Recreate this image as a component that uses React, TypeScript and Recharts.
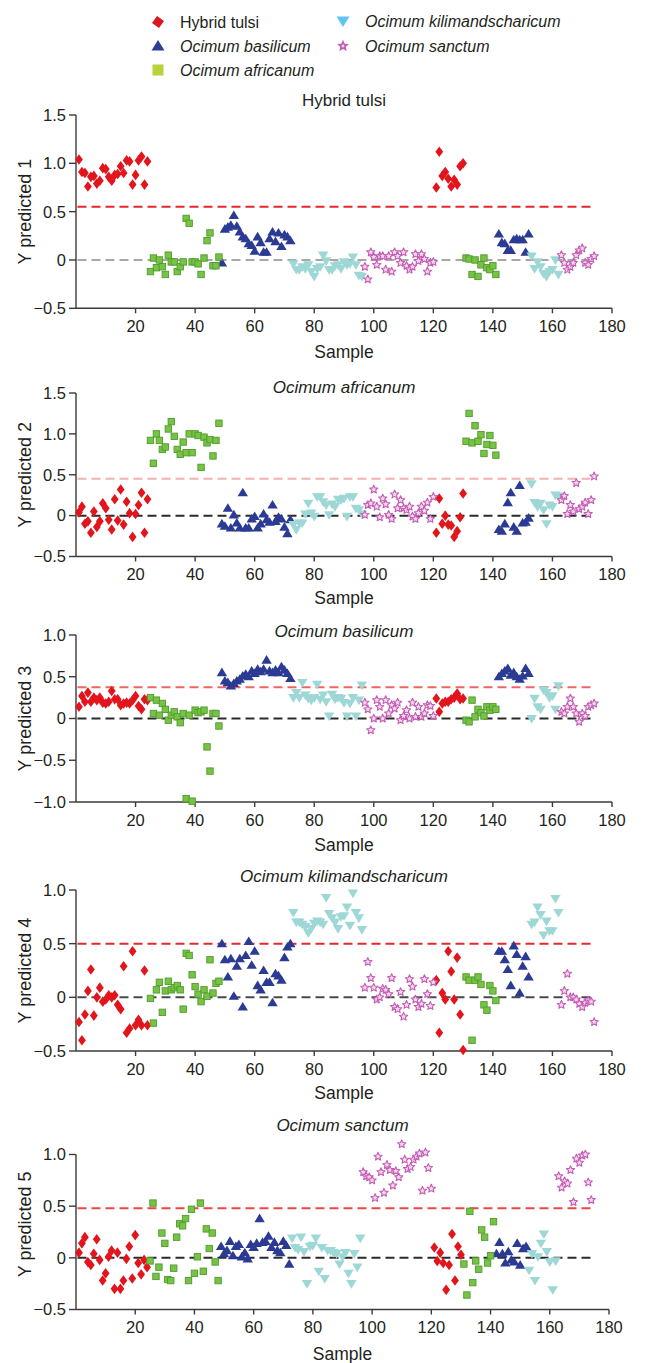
import React from 'react';
import { ScatterChart, Scatter, XAxis, YAxis, ReferenceLine } from 'recharts';

const FONT = '"Liberation Sans", Arial, Helvetica, sans-serif';
const TEXT = '#231f20';
const AXIS = '#3a3a3a';

// ---- categories ----
const speciesNames = ['Hybrid tulsi', 'Ocimum basilicum', 'Ocimum africanum', 'Ocimum kilimandscharicum', 'Ocimum sanctum'];

// sample number ranges (training block, test block) for each species
const hybridRanges = [[1, 24], [121, 130]];
const africanumRanges = [[25, 48], [131, 141]];
const basilicumRanges = [[49, 72], [142, 152]];
const kiliRanges = [[73, 96], [153, 162]];
const sanctumRanges = [[97, 120], [163, 174]];

const xTicks = [20, 40, 60, 80, 100, 120, 140, 160, 180];

// ---- Y predicted 1 (Hybrid tulsi) ----
const hybrid1 = [1.04, 0.91, 0.9, 0.76, 0.86, 0.87, 0.79, 0.82, 0.95, 0.94, 0.86, 0.82, 0.88, 0.89, 0.97, 0.9, 1.03, 1.02, 0.78, 0.88, 1.03, 1.07, 0.78, 1.02,
  0.75, 1.12, 0.87, 0.91, 0.84, 0.76, 0.83, 0.78, 0.97, 1.0];
const africanum1 = [-0.12, 0.02, -0.08, 0.0, -0.07, -0.15, 0.05, -0.02, -0.02, -0.12, -0.07, -0.02, 0.43, 0.38, -0.02, -0.02, -0.04, -0.15, 0.02, 0.2, 0.28, -0.06, -0.06, 0.03,
  0.02, 0.01, -0.15, 0.0, -0.17, -0.05, 0.02, -0.08, -0.1, -0.06, -0.15];
const basilicum1 = [-0.03, 0.32, 0.34, 0.36, 0.46, 0.35, 0.29, 0.24, 0.22, 0.17, 0.15, 0.09, 0.24, 0.18, 0.08, 0.08, 0.22, 0.29, 0.19, 0.28, 0.14, 0.26, 0.24, 0.2,
  0.27, 0.18, 0.17, 0.1, 0.1, 0.21, 0.22, 0.21, 0.21, 0.08, 0.27];
const kili1 = [-0.04, -0.1, -0.1, -0.07, -0.09, -0.05, -0.12, -0.17, -0.09, -0.07, 0.05, -0.01, -0.1, -0.1, -0.06, -0.05, -0.09, -0.02, -0.05, -0.04, 0.03, -0.05, -0.16, -0.17,
  0.04, -0.09, -0.02, -0.07, -0.14, -0.17, -0.12, -0.1, 0.0, -0.15];
const sanctum1 = [-0.07, -0.2, 0.08, 0.03, -0.05, 0.04, 0.04, -0.1, 0.04, -0.12, 0.08, 0.04, -0.03, 0.08, -0.06, -0.1, -0.07, 0.06, -0.01, 0.06, 0.01, -0.12, -0.03, -0.02,
  0.05, -0.03, -0.1, -0.07, -0.03, 0.05, 0.1, 0.12, -0.03, -0.05, 0.01, 0.04];

// ---- Y predicted 2 (Ocimum africanum) ----
const hybrid2 = [0.04, 0.11, -0.1, -0.07, -0.21, 0.05, -0.14, -0.07, 0.15, 0.09, -0.05, -0.17, 0.2, -0.06, 0.32, -0.11, 0.17, 0.03, -0.26, 0.02, 0.13, 0.28, -0.21, 0.2,
  -0.21, 0.21, -0.1, 0.0, -0.11, -0.12, -0.26, -0.19, -0.02, 0.27];
const africanum2 = [0.92, 0.64, 1.0, 0.92, 0.81, 0.84, 1.06, 1.15, 0.97, 0.81, 0.75, 0.9, 0.77, 1.0, 0.77, 1.0, 0.98, 0.59, 0.96, 0.89, 0.93, 0.73, 0.92, 1.13,
  0.91, 1.25, 0.89, 1.1, 0.91, 0.99, 0.76, 0.87, 0.98, 0.86, 0.74];
const basilicum2 = [-0.1, -0.13, 0.09, -0.15, 0.01, -0.09, -0.15, 0.28, -0.15, -0.15, -0.04, -0.01, -0.15, -0.1, 0.02, -0.05, -0.08, 0.13, -0.07, -0.02, -0.04, -0.14, -0.22, -0.05,
  -0.17, -0.19, -0.1, 0.16, 0.28, -0.14, -0.19, 0.37, -0.09, -0.08, -0.03];
const kili2 = [-0.11, -0.17, -0.09, -0.09, 0.02, 0.15, 0.03, -0.01, 0.23, 0.23, 0.17, 0.13, 0.01, 0.14, 0.11, 0.2, 0.19, 0.21, -0.01, 0.23, 0.23, 0.09, 0.07, 0.02,
  0.39, 0.16, 0.11, 0.15, 0.07, -0.1, 0.13, 0.11, 0.25, 0.24];
const sanctum2 = [0.01, 0.13, 0.15, 0.32, 0.11, -0.02, 0.21, 0.14, 0.01, -0.04, 0.26, 0.09, 0.19, 0.09, 0.07, 0.11, -0.01, -0.04, 0.03, 0.11, 0.06, 0.16, -0.04, 0.23,
  0.19, 0.24, 0.02, 0.13, 0.05, 0.4, 0.08, 0.11, 0.16, 0.02, 0.19, 0.48];

// ---- Y predicted 3 (Ocimum basilicum) ----
const hybrid3 = [0.14, 0.27, 0.2, 0.31, 0.2, 0.25, 0.22, 0.25, 0.19, 0.18, 0.2, 0.33, 0.23, 0.23, 0.16, 0.18, 0.19, 0.18, 0.22, 0.27, 0.15, 0.11, 0.23, 0.22,
  0.24, 0.08, 0.18, 0.2, 0.2, 0.23, 0.25, 0.3, 0.23, 0.24];
const africanum3 = [0.25, 0.06, 0.22, 0.04, 0.18, 0.11, -0.02, 0.04, 0.08, 0.02, -0.05, 0.06, -0.96, 0.04, -0.99, 0.1, 0.07, 0.08, 0.1, -0.34, -0.63, 0.06, 0.06, -0.09,
  -0.02, -0.04, 0.22, 0.02, 0.11, 0.07, 0.03, 0.14, 0.1, 0.14, 0.11];
const basilicum3 = [0.55, 0.45, 0.43, 0.39, 0.42, 0.45, 0.47, 0.51, 0.53, 0.5, 0.57, 0.54, 0.59, 0.56, 0.59, 0.7, 0.57, 0.55, 0.58, 0.55, 0.62, 0.58, 0.54, 0.48,
  0.5, 0.54, 0.57, 0.6, 0.52, 0.55, 0.5, 0.47, 0.51, 0.6, 0.54];
const kili3 = [0.25, 0.31, 0.25, 0.43, 0.28, 0.24, 0.22, 0.25, 0.41, 0.23, 0.28, 0.2, 0.03, 0.29, 0.23, 0.25, 0.24, 0.19, 0.03, 0.18, 0.25, 0.03, 0.22, 0.4,
  0.0, 0.24, 0.14, 0.11, 0.34, 0.31, 0.25, 0.27, 0.11, 0.39];
const sanctum3 = [0.19, 0.11, -0.14, 0.0, 0.22, 0.14, 0.0, 0.22, 0.06, 0.16, 0.12, 0.19, -0.02, 0.03, 0.1, 0.0, 0.19, 0.02, 0.14, 0.02, 0.06, 0.16, 0.15, 0.03,
  0.08, 0.06, 0.14, 0.24, 0.14, 0.06, -0.04, 0.06, 0.03, 0.14, 0.16, 0.18];

// ---- Y predicted 4 (Ocimum kilimandscharicum) ----
const hybrid4 = [-0.23, -0.4, -0.16, 0.06, 0.26, -0.17, 0.0, 0.09, -0.04, -0.02, 0.02, 0.0, 0.02, -0.07, -0.11, 0.29, -0.33, -0.29, 0.43, -0.26, -0.21, -0.26, 0.25, -0.26,
  0.16, -0.33, 0.04, -0.02, 0.43, 0.24, -0.02, 0.37, -0.16, -0.49];
const africanum4 = [-0.01, -0.24, 0.07, 0.14, -0.14, 0.06, 0.15, 0.07, 0.09, 0.11, 0.07, -0.11, 0.41, 0.39, 0.21, 0.1, 0.03, -0.04, 0.07, 0.01, 0.35, 0.04, 0.13, 0.15,
  0.19, 0.16, -0.4, 0.16, 0.19, 0.12, -0.07, -0.12, 0.11, 0.06, -0.03];
const basilicum4 = [0.5, 0.35, 0.19, 0.36, 0.01, 0.29, 0.36, -0.09, 0.39, 0.52, 0.3, 0.43, 0.11, 0.07, 0.25, 0.14, 0.14, -0.05, 0.22, 0.2, 0.16, 0.37, 0.47, 0.5,
  0.43, 0.43, 0.35, 0.26, 0.11, 0.48, 0.4, 0.04, 0.29, 0.38, 0.19];
const kili4 = [0.79, 0.7, 0.7, 0.68, 0.66, 0.6, 0.64, 0.69, 0.71, 0.7, 0.68, 0.93, 0.78, 0.74, 0.7, 0.64, 0.75, 0.76, 0.84, 0.67, 0.97, 0.79, 0.74, 0.63,
  0.68, 0.7, 0.84, 0.77, 0.58, 0.71, 0.62, 0.62, 0.92, 0.79];
const sanctum4 = [0.09, 0.33, 0.18, 0.09, -0.02, 0.0, 0.08, 0.07, 0.03, 0.18, -0.09, -0.11, 0.05, -0.18, -0.07, 0.17, 0.1, -0.02, -0.09, -0.06, 0.17, 0.03, -0.08, 0.14,
  -0.07, 0.06, 0.22, 0.0, 0.0, -0.02, -0.06, -0.09, -0.05, -0.03, -0.04, -0.23];

// ---- Y predicted 5 (Ocimum sanctum) ----
const hybrid5 = [0.05, 0.14, 0.2, -0.04, -0.07, 0.04, 0.18, -0.02, -0.22, -0.15, 0.01, 0.07, -0.3, 0.05, -0.3, -0.22, -0.01, 0.11, -0.2, 0.22, -0.05, -0.16, -0.02, -0.09,
  0.1, -0.03, 0.05, -0.05, -0.31, -0.07, 0.23, -0.22, 0.11, 0.03];
const africanum5 = [-0.03, 0.53, -0.18, -0.09, 0.24, 0.14, -0.21, -0.22, -0.1, 0.2, 0.33, 0.31, 0.38, -0.22, 0.47, -0.15, 0.01, 0.53, -0.13, 0.28, 0.09, 0.24, -0.04, -0.22,
  -0.06, -0.36, 0.45, -0.24, -0.03, -0.11, 0.27, 0.2, -0.05, 0.02, 0.35];
const basilicum5 = [0.11, 0.04, 0.07, 0.16, 0.02, 0.11, 0.13, 0.01, 0.05, -0.01, 0.13, 0.1, 0.14, 0.38, 0.15, 0.16, 0.21, 0.1, 0.15, 0.07, 0.05, 0.16, 0.12, -0.06,
  0.04, 0.15, 0.04, -0.05, 0.06, -0.02, -0.04, 0.14, -0.07, 0.09, 0.11];
const kili5 = [0.19, 0.1, 0.08, 0.2, 0.06, -0.25, 0.11, 0.12, 0.19, -0.13, 0.1, -0.2, 0.07, 0.07, 0.05, 0.04, -0.06, 0.01, 0.05, -0.15, -0.25, 0.04, -0.09, 0.19,
  -0.12, 0.04, -0.22, 0.01, 0.14, 0.23, 0.06, -0.04, -0.31, -0.03];
const sanctum5 = [0.83, 0.79, 0.78, 0.75, 0.58, 0.98, 0.83, 0.63, 0.9, 0.85, 0.7, 0.84, 0.78, 1.1, 0.95, 0.86, 0.88, 0.95, 0.98, 1.01, 0.65, 1.02, 0.87, 0.67,
  0.79, 0.68, 0.74, 0.72, 0.85, 0.54, 0.96, 0.92, 0.99, 1.0, 0.73, 0.56];

// ---- helpers ----
function expand(ranges: number[][]) {
  const out: number[] = [];
  ranges.forEach(([a, b]) => { for (let i = a; i <= b; i++) out.push(i); });
  return out;
}
const hybridSamples = expand(hybridRanges);
const africanumSamples = expand(africanumRanges);
const basilicumSamples = expand(basilicumRanges);
const kiliSamples = expand(kiliRanges);
const sanctumSamples = expand(sanctumRanges);

function toPoints(samples: number[], values: number[]) {
  const pts: { x: number; y: number }[] = [];
  values.forEach((v, i) => { if (samples[i] !== undefined) pts.push({ x: samples[i], y: v }); });
  return pts;
}

function starPath(cx: number, cy: number, ro: number, ri: number) {
  let d = '';
  for (let k = 0; k < 10; k++) {
    const r = k % 2 === 0 ? ro : ri;
    const a = -Math.PI / 2 + (k * Math.PI) / 5;
    d += (k === 0 ? 'M' : 'L') + (cx + r * Math.cos(a)).toFixed(2) + ',' + (cy + r * Math.sin(a)).toFixed(2);
  }
  return d + 'Z';
}

// ---- marker shapes ----
const DiamondShape = (p: any) => {
  const { cx, cy } = p;
  if (cx == null || cy == null) return <g />;
  return <path d={`M${cx},${cy - 5.3}L${cx + 3.9},${cy}L${cx},${cy + 5.3}L${cx - 3.9},${cy}Z`} fill="#e3151c" />;
};
const TriUpShape = (p: any) => {
  const { cx, cy } = p;
  if (cx == null || cy == null) return <g />;
  return <path d={`M${cx},${cy - 5}L${cx + 5.2},${cy + 3.6}L${cx - 5.2},${cy + 3.6}Z`} fill="#2b3a93" />;
};
const SquareShape = (p: any) => {
  const { cx, cy } = p;
  if (cx == null || cy == null) return <g />;
  return <rect x={cx - 3.2} y={cy - 3.2} width={6.4} height={6.4} fill="#78c245" stroke="#4e9c2c" strokeWidth={0.9} />;
};
const TriDownShape = (p: any) => {
  const { cx, cy } = p;
  if (cx == null || cy == null) return <g />;
  return <path d={`M${cx - 5.2},${cy - 3.6}L${cx + 5.2},${cy - 3.6}L${cx},${cy + 5}Z`} fill="#9dd7d6" />;
};
const StarShape = (p: any) => {
  const { cx, cy } = p;
  if (cx == null || cy == null) return <g />;
  return <path d={starPath(cx, cy, 4.3, 2)} fill="#f6d6f0" stroke="#c35bb2" strokeWidth={1.1} strokeLinejoin="round" />;
};

// ---- panels ----
const panels = [
  {
    title: 'Hybrid tulsi', italic: false, yLabel: 'Y predicted 1',
    plotTop: 115, plotBottom: 308.3, right: 612, domain: [-0.5, 1.5], ticks: [-0.5, 0, 0.5, 1, 1.5], axisTop: null as number | null,
    threshold: 0.55, thresholdColor: '#e8262c', zeroColor: '#a9a6a3', titleY: 101, sampleY: 351.7,
    series: [hybrid1, basilicum1, africanum1, kili1, sanctum1],
  },
  {
    title: 'Ocimum africanum', italic: true, yLabel: 'Y predicted 2',
    plotTop: 393, plotBottom: 556.5, right: 612, domain: [-0.5, 1.5], ticks: [-0.5, 0, 0.5, 1, 1.5], axisTop: null,
    threshold: 0.45, thresholdColor: '#f7b0b0', zeroColor: '#2a2a2a', titleY: 387, sampleY: 598,
    series: [hybrid2, basilicum2, africanum2, kili2, sanctum2],
  },
  {
    title: 'Ocimum basilicum', italic: true, yLabel: 'Y predicted 3',
    plotTop: 635, plotBottom: 802, right: 612, domain: [-1, 1], ticks: [-1, -0.5, 0, 0.5, 1], axisTop: null,
    threshold: 0.375, thresholdColor: '#f26464', zeroColor: '#2a2a2a', titleY: 631, sampleY: 845,
    series: [hybrid3, basilicum3, africanum3, kili3, sanctum3],
  },
  {
    title: 'Ocimum kilimandscharicum', italic: true, yLabel: 'Y predicted 4',
    plotTop: 890, plotBottom: 1051, right: 612, domain: [-0.5, 1], ticks: [-0.5, 0, 0.5, 1], axisTop: null,
    threshold: 0.5, thresholdColor: '#e8262c', zeroColor: '#4a4a4a', titleY: 876, sampleY: 1093,
    series: [hybrid4, basilicum4, africanum4, kili4, sanctum4],
  },
  {
    title: 'Ocimum sanctum', italic: true, yLabel: 'Y predicted 5',
    plotTop: 1138.5, plotBottom: 1309, right: 609, domain: [-0.5, 1.15], ticks: [-0.5, 0, 0.5, 1], axisTop: 1,
    threshold: 0.48, thresholdColor: '#ee4444', zeroColor: '#2a2a2a', titleY: 1125, sampleY: 1353,
    series: [hybrid5, basilicum5, africanum5, kili5, sanctum5],
  },
];

const sampleSets = [hybridSamples, basilicumSamples, africanumSamples, kiliSamples, sanctumSamples];
const shapes = [DiamondShape, TriUpShape, SquareShape, TriDownShape, StarShape];

const PLOT_LEFT = 76;
const TOP_PAD = 45;
const XAXIS_H = 60;

const fmtY = (v: number) => (v === 0 ? '0' : v.toFixed(1).replace('-', '\u2212'));

function Panel({ cfg }: { cfg: typeof panels[number] }) {
  const plotH = cfg.plotBottom - cfg.plotTop;
  const top = cfg.plotTop - TOP_PAD;
  const height = TOP_PAD + plotH + XAXIS_H;
  const cx = (PLOT_LEFT + cfg.right) / 2;
  const yLabelContent = () => (
    <g>
      <text x={25} y={TOP_PAD + plotH / 2} transform={`rotate(-90, 25, ${TOP_PAD + plotH / 2})`} textAnchor="middle"
        dominantBaseline="central" fontSize={18} fill={TEXT} fontFamily={FONT}>{cfg.yLabel}</text>
      <text x={cx} y={cfg.titleY - top} textAnchor="middle" dominantBaseline="central" fontSize={17}
        fontStyle={cfg.italic ? 'italic' : 'normal'} fill={TEXT} fontFamily={FONT}>{cfg.title}</text>
    </g>
  );
  const xLabelContent = () => (
    <text x={cx} y={cfg.sampleY - top} textAnchor="middle" dominantBaseline="central" fontSize={17.5}
      fill={TEXT} fontFamily={FONT}>Sample</text>
  );
  return (
    <div style={{ position: 'absolute', left: 0, top, width: 645, height, fontFamily: FONT }}>
      <ScatterChart width={645} height={height} margin={{ top: TOP_PAD, right: 645 - cfg.right, bottom: 0, left: 0 }}>
        <XAxis type="number" dataKey="x" domain={[0, 180]} ticks={xTicks} height={XAXIS_H}
          stroke={AXIS} strokeWidth={1.4} tickSize={5} tickMargin={7}
          tick={{ fontSize: 16.5, fill: TEXT, fontFamily: FONT }} label={xLabelContent} />
        <YAxis type="number" dataKey="y" domain={cfg.domain} ticks={cfg.ticks} width={PLOT_LEFT}
          stroke={AXIS} strokeWidth={1.4} tickSize={7} tickMargin={3} axisLine={cfg.axisTop == null}
          tickFormatter={fmtY} tick={{ fontSize: 16.5, fill: TEXT, fontFamily: FONT }} label={yLabelContent} />
        {cfg.axisTop != null && (
          <ReferenceLine segment={[{ x: 0, y: cfg.domain[0] }, { x: 0, y: cfg.axisTop }]} stroke={AXIS} strokeWidth={1.4} />
        )}
        <ReferenceLine segment={[{ x: 0.5, y: cfg.threshold }, { x: 174, y: cfg.threshold }]}
          stroke={cfg.thresholdColor} strokeWidth={2} strokeDasharray="9 5" />
        <ReferenceLine segment={[{ x: 0.5, y: 0 }, { x: 174, y: 0 }]}
          stroke={cfg.zeroColor} strokeWidth={2} strokeDasharray="9 5" />
        {cfg.series.map((vals, i) => (
          <Scatter key={speciesNames[i]} name={speciesNames[i]} data={toPoints(sampleSets[i], vals)}
            shape={shapes[i]} isAnimationActive={false} />
        ))}
      </ScatterChart>
    </div>
  );
}

function Legend() {
  const rows = [
    { x: 158, y: 22, name: speciesNames[0], italic: false, kind: 'diamond' },
    { x: 158, y: 46, name: speciesNames[1], italic: true, kind: 'up' },
    { x: 158, y: 70, name: speciesNames[2], italic: true, kind: 'square' },
    { x: 343, y: 21, name: speciesNames[3], italic: true, kind: 'down' },
    { x: 343, y: 46, name: speciesNames[4], italic: true, kind: 'star' },
  ];
  const marker = (k: string, x: number, y: number) => {
    if (k === 'diamond') return <path d={`M${x - 1},${y - 6}L${x + 6},${y - 1}L${x + 1},${y + 6}L${x - 6},${y + 1}Z`} fill="#d9181f" />;
    if (k === 'up') return <path d={`M${x},${y - 6}L${x + 6.5},${y + 4.5}L${x - 6.5},${y + 4.5}Z`} fill="#2d3e94" />;
    if (k === 'square') return <rect x={x - 5.5} y={y - 5.5} width={11} height={11} fill="#b7d23a" />;
    if (k === 'down') return <path d={`M${x - 6.5},${y - 4.5}L${x + 6.5},${y - 4.5}L${x},${y + 6}Z`} fill="#5ec6ee" />;
    return (
      <g>
        <path d={starPath(x, y, 6.2, 2.9)} fill="#c25bb2" />
        <circle cx={x} cy={y} r={1.4} fill="#f3d3ec" />
      </g>
    );
  };
  return (
    <svg width={645} height={85} style={{ position: 'absolute', left: 0, top: 0 }}>
      {rows.map((r) => (
        <g key={r.name}>
          {marker(r.kind, r.x, r.y)}
          <text x={r.x + 22} y={r.y} dominantBaseline="central" fontSize={16} fontFamily={FONT}
            fontStyle={r.italic ? 'italic' : 'normal'} fill={TEXT}>{r.name}</text>
        </g>
      ))}
    </svg>
  );
}

export default function App() {
  return (
    <div style={{ position: 'absolute', left: 0, top: 0, width: 645, height: 1363, background: '#fff' }}>
      <Legend />
      {panels.map((p) => <Panel key={p.yLabel} cfg={p} />)}
    </div>
  );
}
